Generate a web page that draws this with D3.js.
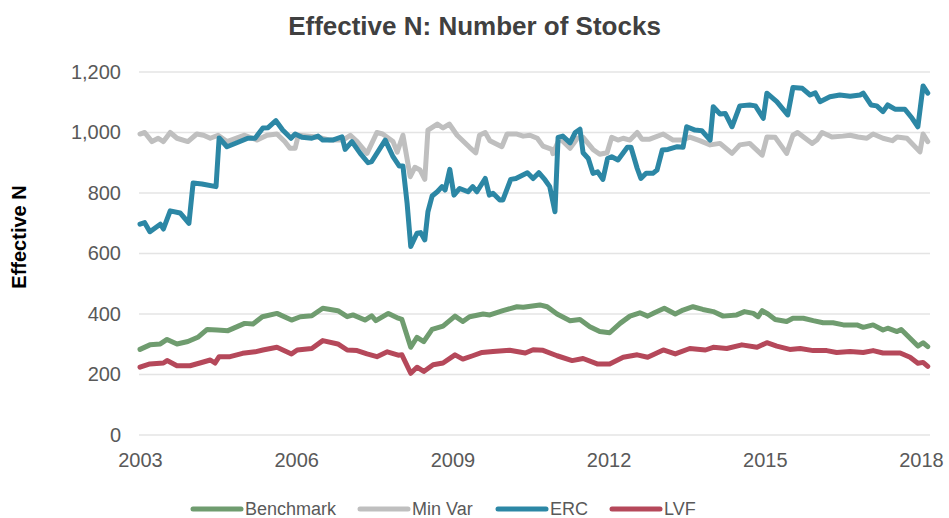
<!DOCTYPE html>
<html>
<head>
<meta charset="utf-8">
<script src="https://cdn.jsdelivr.net/npm/d3@7"></script>
<style>
  body { margin: 0; background: #fff; }
  svg { font-family: "Liberation Sans", Arial, sans-serif; }
</style>
</head>
<body>
<svg width="949" height="518"></svg>
<script>
(function (d3) {
  'use strict';

  // Datos: [año decimal, valor]
  const yearTicks = [2003, 2006, 2009, 2012, 2015, 2018];
  const yTicks = [0, 200, 400, 600, 800, 1000, 1200];
  const seriesNames = ['Benchmark', 'Min Var', 'ERC', 'LVF'];
  const seriesColors = ['#6f9c6f', '#bfbfbf', '#2c87a5', '#b5485a'];

  const benchmark = [
    [2003.00, 283], [2003.19, 298], [2003.39, 301], [2003.52, 316], [2003.71, 301], [2003.92, 309],
    [2004.11, 323], [2004.29, 349], [2004.48, 347], [2004.69, 345], [2005.01, 369], [2005.17, 367],
    [2005.35, 391], [2005.63, 402], [2005.91, 380], [2006.08, 391], [2006.30, 394], [2006.51, 419],
    [2006.80, 411], [2006.98, 391], [2007.09, 397], [2007.32, 380], [2007.45, 394], [2007.53, 378],
    [2007.77, 402], [2007.96, 386], [2008.03, 382], [2008.20, 290], [2008.32, 323], [2008.45, 309],
    [2008.61, 349], [2008.82, 360], [2009.05, 393], [2009.20, 375], [2009.33, 391], [2009.59, 400],
    [2009.72, 397], [2009.97, 411], [2010.24, 424], [2010.36, 422], [2010.68, 430], [2010.82, 424],
    [2011.01, 400], [2011.26, 378], [2011.45, 382], [2011.64, 358], [2011.83, 342], [2012.02, 338],
    [2012.22, 369], [2012.41, 393], [2012.60, 404], [2012.75, 393], [2012.89, 405], [2013.07, 419],
    [2013.28, 400], [2013.43, 413], [2013.62, 424], [2013.81, 415], [2014.01, 408], [2014.20, 393],
    [2014.46, 397], [2014.61, 408], [2014.78, 402], [2014.87, 391], [2014.95, 411], [2015.06, 400],
    [2015.20, 382], [2015.42, 375], [2015.54, 386], [2015.74, 386], [2015.93, 378], [2016.12, 371],
    [2016.31, 371], [2016.51, 364], [2016.77, 364], [2016.89, 356], [2017.08, 364], [2017.27, 347],
    [2017.36, 353], [2017.54, 342], [2017.62, 349], [2017.79, 320], [2017.94, 294], [2018.04, 305],
    [2018.13, 292]
  ];

  const minVar = [
    [2003.00, 995], [2003.09, 1000], [2003.23, 970], [2003.35, 981], [2003.45, 970], [2003.58, 1000],
    [2003.71, 981], [2003.92, 970], [2004.09, 995], [2004.22, 991], [2004.35, 981], [2004.50, 991],
    [2004.67, 970], [2005.01, 991], [2005.25, 975], [2005.44, 991], [2005.63, 995], [2005.78, 970],
    [2005.88, 948], [2005.98, 948], [2006.04, 991], [2006.40, 985], [2006.65, 975], [2006.90, 975],
    [2007.04, 991], [2007.17, 970], [2007.36, 931], [2007.55, 1000], [2007.66, 995], [2007.86, 970],
    [2007.94, 935], [2008.05, 991], [2008.19, 854], [2008.28, 885], [2008.38, 876], [2008.47, 845],
    [2008.53, 1008], [2008.71, 1028], [2008.82, 1015], [2008.94, 1028], [2009.09, 991], [2009.33, 951],
    [2009.45, 933], [2009.52, 991], [2009.63, 1000], [2009.72, 973], [2009.95, 953], [2010.05, 995],
    [2010.24, 995], [2010.36, 988], [2010.49, 991], [2010.63, 981], [2010.74, 955], [2010.91, 944],
    [2010.93, 930], [2011.06, 981], [2011.26, 948], [2011.40, 981], [2011.51, 984], [2011.70, 944],
    [2011.83, 928], [2011.97, 933], [2012.06, 984], [2012.18, 975], [2012.28, 981], [2012.41, 975],
    [2012.55, 1000], [2012.64, 978], [2012.79, 978], [2013.05, 995], [2013.24, 975], [2013.43, 975],
    [2013.56, 985], [2013.75, 973], [2013.95, 959], [2014.14, 964], [2014.37, 931], [2014.52, 959],
    [2014.71, 964], [2014.95, 925], [2015.04, 985], [2015.20, 984], [2015.42, 931], [2015.54, 991],
    [2015.63, 1000], [2015.91, 964], [2016.00, 975], [2016.10, 1000], [2016.29, 985], [2016.50, 988],
    [2016.64, 991], [2016.79, 985], [2016.96, 981], [2017.08, 995], [2017.27, 981], [2017.45, 973],
    [2017.54, 985], [2017.73, 981], [2017.98, 936], [2018.04, 995], [2018.13, 970]
  ];

  const erc = [
    [2003.00, 697], [2003.09, 702], [2003.19, 672], [2003.39, 697], [2003.45, 681], [2003.58, 741],
    [2003.77, 734], [2003.94, 700], [2004.02, 833], [2004.19, 830], [2004.46, 821], [2004.52, 982],
    [2004.67, 953], [2004.86, 966], [2005.07, 981], [2005.21, 981], [2005.36, 1015], [2005.46, 1016],
    [2005.61, 1039], [2005.74, 1008], [2005.90, 981], [2005.98, 995], [2006.11, 984], [2006.30, 981],
    [2006.42, 988], [2006.51, 975], [2006.70, 975], [2006.88, 986], [2006.94, 944], [2007.07, 970],
    [2007.23, 931], [2007.38, 900], [2007.45, 904], [2007.71, 975], [2007.86, 920], [2007.98, 889],
    [2008.05, 889], [2008.13, 766], [2008.20, 623], [2008.32, 667], [2008.39, 669], [2008.47, 645],
    [2008.53, 738], [2008.61, 790], [2008.71, 804], [2008.80, 821], [2008.86, 810], [2008.95, 878],
    [2009.03, 793], [2009.14, 815], [2009.30, 804], [2009.39, 821], [2009.47, 804], [2009.63, 848],
    [2009.71, 793], [2009.78, 799], [2009.91, 777], [2009.97, 777], [2010.12, 845], [2010.22, 848],
    [2010.44, 867], [2010.55, 848], [2010.66, 867], [2010.78, 843], [2010.87, 821], [2010.97, 738],
    [2011.03, 984], [2011.12, 988], [2011.26, 966], [2011.36, 1000], [2011.45, 1011], [2011.51, 933],
    [2011.61, 914], [2011.70, 865], [2011.79, 870], [2011.89, 845], [2011.98, 914], [2012.06, 920],
    [2012.18, 909], [2012.36, 951], [2012.43, 951], [2012.55, 881], [2012.62, 848], [2012.72, 865],
    [2012.85, 865], [2012.93, 876], [2013.03, 942], [2013.14, 944], [2013.32, 953], [2013.43, 951],
    [2013.50, 1019], [2013.66, 1008], [2013.79, 1006], [2013.95, 975], [2014.01, 1085], [2014.14, 1061],
    [2014.24, 1063], [2014.37, 1019], [2014.52, 1088], [2014.71, 1091], [2014.82, 1088], [2014.97, 1047],
    [2015.04, 1130], [2015.23, 1102], [2015.44, 1058], [2015.54, 1149], [2015.72, 1146], [2015.87, 1124],
    [2015.97, 1131], [2016.06, 1102], [2016.25, 1118], [2016.44, 1124], [2016.64, 1120], [2016.83, 1124],
    [2016.89, 1130], [2017.04, 1091], [2017.15, 1088], [2017.27, 1069], [2017.36, 1091], [2017.50, 1077],
    [2017.69, 1077], [2017.83, 1047], [2017.94, 1019], [2018.04, 1154], [2018.13, 1130]
  ];

  const lvf = [
    [2003.00, 224], [2003.19, 235], [2003.45, 238], [2003.52, 246], [2003.71, 229], [2003.96, 229],
    [2004.15, 238], [2004.35, 248], [2004.44, 238], [2004.52, 259], [2004.73, 259], [2004.97, 270],
    [2005.21, 275], [2005.36, 281], [2005.63, 290], [2005.91, 268], [2006.02, 281], [2006.30, 286],
    [2006.51, 312], [2006.80, 301], [2006.98, 281], [2007.17, 279], [2007.36, 268], [2007.55, 259],
    [2007.75, 275], [2007.96, 264], [2008.03, 265], [2008.20, 204], [2008.32, 224], [2008.45, 210],
    [2008.63, 232], [2008.82, 238], [2009.05, 265], [2009.20, 251], [2009.39, 262], [2009.57, 273],
    [2009.78, 276], [2010.10, 280], [2010.40, 271], [2010.55, 282], [2010.74, 280], [2011.01, 262],
    [2011.30, 246], [2011.51, 253], [2011.78, 235], [2012.02, 235], [2012.28, 257], [2012.55, 265],
    [2012.75, 257], [2013.05, 281], [2013.28, 268], [2013.56, 286], [2013.86, 281], [2014.01, 290],
    [2014.27, 286], [2014.56, 298], [2014.85, 290], [2015.04, 305], [2015.23, 294], [2015.48, 283],
    [2015.68, 286], [2015.93, 279], [2016.19, 279], [2016.38, 273], [2016.64, 276], [2016.89, 273],
    [2017.08, 279], [2017.27, 271], [2017.60, 271], [2017.79, 257], [2017.94, 237], [2018.04, 240],
    [2018.13, 227]
  ];

  const allSeries = [benchmark, minVar, erc, lvf];

  const svg = d3.select('svg');
  const ancho = +svg.attr('width');

  // Area del grafico (la cuadricula va un poco mas alla de 2018)
  const margen = { izq: 139, der: 930, arriba: 72, abajo: 435 };

  const x = d3.scaleLinear()
    .domain([2003, 2018])
    .range([140, 921]);

  const y = d3.scaleLinear()
    .domain([0, 1200])
    .range([margen.abajo, margen.arriba]);

  // Titulo
  svg.append('text')
    .attr('x', ancho / 2)
    .attr('y', 35)
    .attr('text-anchor', 'middle')
    .attr('font-size', 26)
    .attr('font-weight', 'bold')
    .attr('fill', '#404040')
    .text('Effective N: Number of Stocks');

  // Lineas de cuadricula
  svg.append('g')
    .selectAll('line')
    .data(yTicks)
    .join('line')
      .attr('x1', margen.izq)
      .attr('x2', margen.der)
      .attr('y1', d => y(d))
      .attr('y2', d => y(d))
      .attr('stroke', '#e4e4e4')
      .attr('stroke-width', 1.3);

  // Eje Y
  const ejeY = svg.append('g')
    .attr('transform', `translate(121, 0)`)
    .call(d3.axisLeft(y).tickValues(yTicks).tickSize(0).tickPadding(0).tickFormat(d3.format(',')));
  ejeY.select('.domain').remove();
  ejeY.selectAll('text')
    .attr('font-size', 20)
    .attr('font-family', '"Liberation Sans", Arial, sans-serif')
    .attr('fill', '#595959');

  // Eje X
  const ejeX = svg.append('g')
    .attr('transform', `translate(0, ${margen.abajo + 18})`)
    .call(d3.axisBottom(x).tickValues(yearTicks).tickSize(0).tickPadding(0).tickFormat(d3.format('d')));
  ejeX.select('.domain').remove();
  ejeX.selectAll('text')
    .attr('font-size', 20)
    .attr('font-family', '"Liberation Sans", Arial, sans-serif')
    .attr('fill', '#595959');

  // Titulo eje Y
  svg.append('text')
    .attr('transform', 'translate(26, 237) rotate(-90)')
    .attr('text-anchor', 'middle')
    .attr('font-size', 20)
    .attr('font-weight', 'bold')
    .attr('fill', '#000')
    .text('Effective N');

  // Lineas de series
  const linea = d3.line()
    .x(d => x(d[0]))
    .y(d => y(d[1]));

  svg.append('g')
    .selectAll('path')
    .data(allSeries)
    .join('path')
      .attr('d', linea)
      .attr('fill', 'none')
      .attr('stroke', (d, i) => seriesColors[i])
      .attr('stroke-width', 5)
      .attr('stroke-linejoin', 'round')
      .attr('stroke-linecap', 'round');

  // Leyenda
  const leyendaX = [193, 360, 498, 612];
  const leyenda = svg.append('g')
    .attr('transform', 'translate(0, 509)');

  const items = leyenda.selectAll('g')
    .data(seriesNames)
    .join('g')
      .attr('transform', (d, i) => `translate(${leyendaX[i]}, 0)`);

  items.append('line')
    .attr('x1', 0)
    .attr('x2', 48)
    .attr('stroke', (d, i) => seriesColors[i])
    .attr('stroke-width', 5)
    .attr('stroke-linecap', 'round');

  items.append('text')
    .attr('x', 52)
    .attr('dy', '0.35em')
    .attr('font-size', 18)
    .attr('fill', '#595959')
    .text(d => d);

}(d3));
</script>
</body>
</html>
